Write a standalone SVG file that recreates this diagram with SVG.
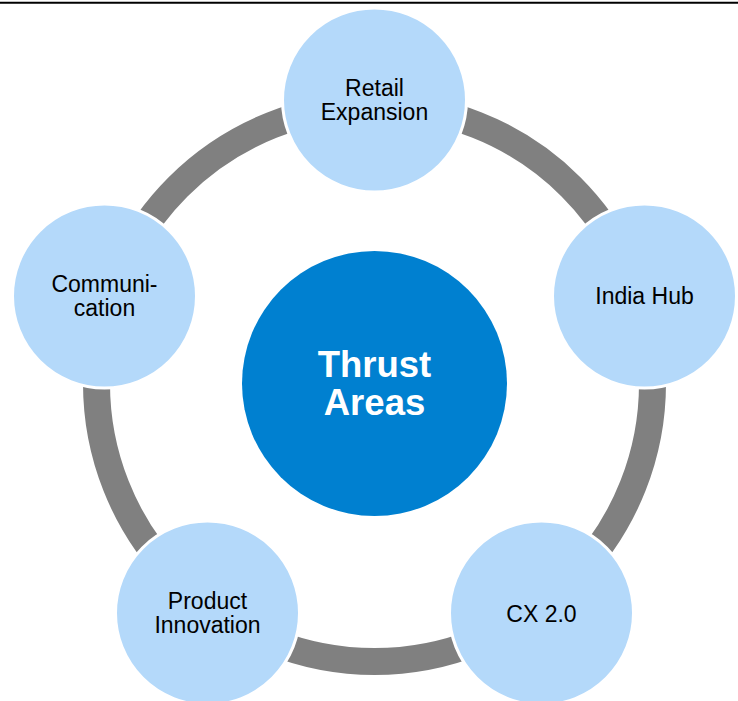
<svg xmlns="http://www.w3.org/2000/svg" width="738" height="701" viewBox="0 0 738 701">
  <style>
    .ring { fill: none; stroke: #808080; stroke-width: 27; }
    .node { fill: #B4D9FA; stroke: #FFFFFF; stroke-width: 3; }
    .hub { fill: #0080D0; }
    .label { font-family: "Liberation Sans", Arial, sans-serif; font-size: 23px; fill: #000000; text-anchor: middle; }
    .title { font-family: "Liberation Sans", Arial, sans-serif; font-size: 36.5px; font-weight: bold; fill: #FFFFFF; text-anchor: middle; }
  </style>
  <rect width="738" height="701" fill="#FFFFFF"/>
  <!-- header rule -->
  <line x1="0" y1="2.8" x2="738" y2="2.8" stroke="#000000" stroke-width="2"/>

  <!-- connecting ring -->
  <g id="connectors">
    <circle class="ring" cx="374.5" cy="383.5" r="278"/>
  </g>

  <g id="thrust-areas">
    <circle class="hub" cx="374.5" cy="383.5" r="132.5"/>
    <text class="title" x="374.5" y="376.5">Thrust</text>
    <text class="title" x="374.5" y="415">Areas</text>
  </g>

  <g id="retail-expansion">
    <circle class="node" cx="374.5" cy="100" r="92"/>
    <text class="label" x="374.5" y="96">Retail</text>
    <text class="label" x="374.5" y="120">Expansion</text>
  </g>

  <g id="india-hub">
    <circle class="node" cx="644.5" cy="296" r="92"/>
    <text class="label" x="644.5" y="304">India Hub</text>
  </g>

  <g id="cx-2">
    <circle class="node" cx="541.5" cy="613" r="92"/>
    <text class="label" x="541.5" y="621.5">CX 2.0</text>
  </g>

  <g id="product-innovation">
    <circle class="node" cx="207.5" cy="613" r="92"/>
    <text class="label" x="207.5" y="609">Product</text>
    <text class="label" x="207.5" y="633">Innovation</text>
  </g>

  <g id="communication">
    <circle class="node" cx="104.5" cy="296" r="92"/>
    <text class="label" x="104.5" y="292">Communi-</text>
    <text class="label" x="104.5" y="315.5">cation</text>
  </g>
</svg>
